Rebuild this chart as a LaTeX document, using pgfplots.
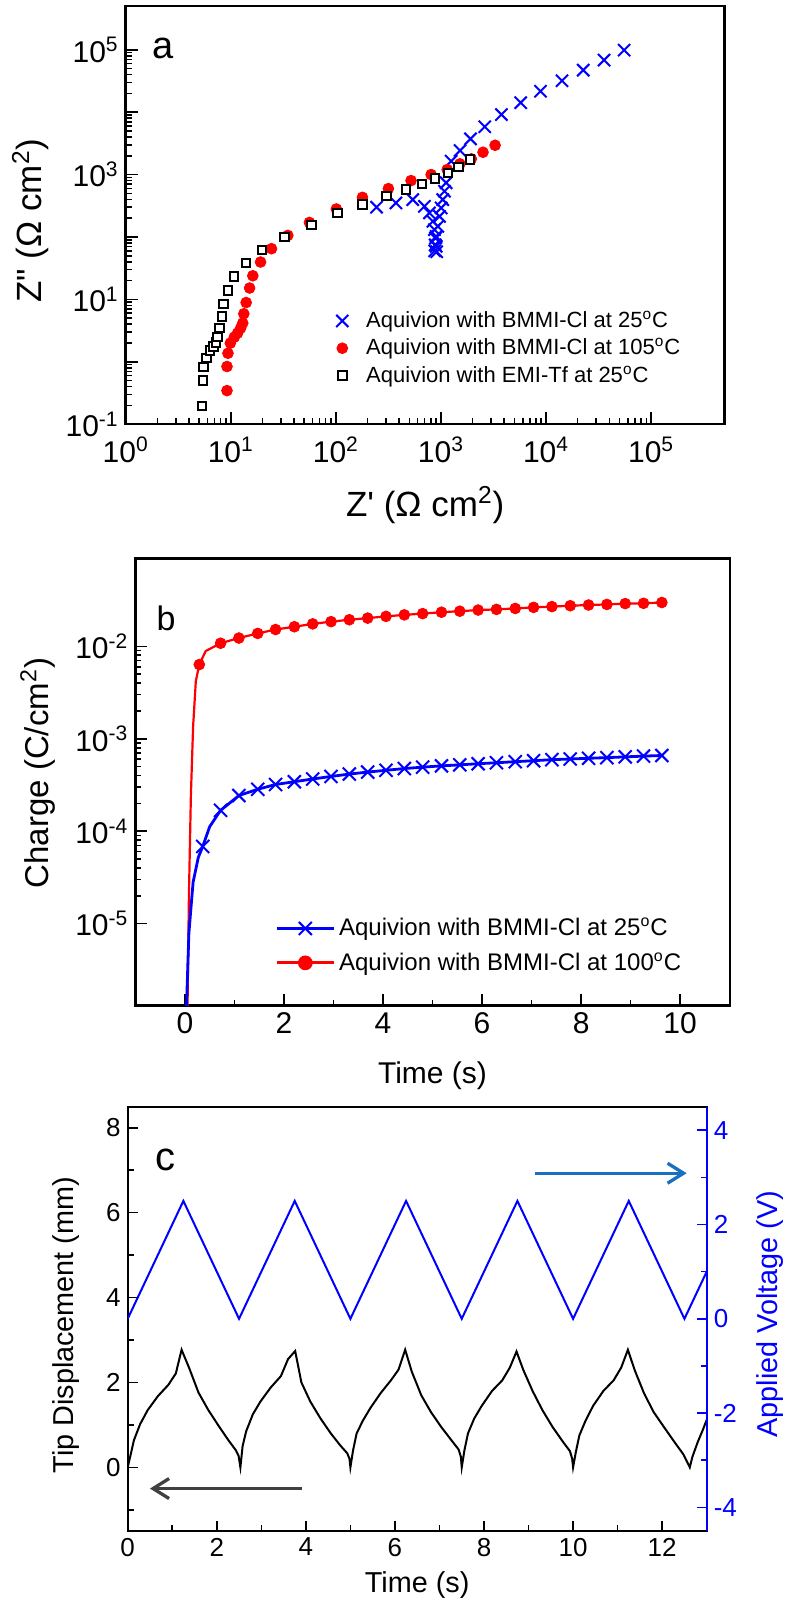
\documentclass[border=0pt]{standalone}
\usepackage{pgfplots}
\pgfplotsset{compat=1.18}
\usepackage{fontspec}
\setmainfont{Liberation Sans}
\setsansfont{Liberation Sans}
\usetikzlibrary{arrows.meta}
\pgfplotsset{/pgf/number format/assume math mode=true}
\begin{document}
\begin{tikzpicture}
\path[use as bounding box] (0,0) rectangle (396.5pt,805pt);
% ---------------- panel a ----------------
\begin{axis}[
 at={(62.85pt,592.9pt)}, anchor=south west, scale only axis,
 width=299.45pt, height=209pt,
 xmode=log, ymode=log, xmin=1, xmax=5e5, ymin=0.1, ymax=5e5,
 axis line style={line width=1.2pt},
 tick align=inside, xtick pos=bottom, ytick pos=left,
 major tick length=6pt, minor tick length=3pt,
 every tick/.style={black, line width=0.8pt},
 xtick={1,10,100,1000,10000,100000},
 xticklabels={10\textsuperscript{0},10\textsuperscript{1},10\textsuperscript{2},10\textsuperscript{3},10\textsuperscript{4},10\textsuperscript{5}},
 ytick={0.1,1,10,100,1000,10000,100000},
 yticklabels={10\textsuperscript{-1},,10\textsuperscript{1},,10\textsuperscript{3},,10\textsuperscript{5}},
 ticklabel style={font=\fontsize{15pt}{17pt}\selectfont},
 xticklabel style={yshift=-3pt},
 label style={font=\fontsize{17.5pt}{20pt}\selectfont},
 xlabel={Z\textquotesingle\ (Ω cm\textsuperscript{2})},
 ylabel={Z\textquotedbl\ (Ω cm\textsuperscript{2})},
 xlabel style={at={(rel axis cs:0.5,-0.193)}, anchor=center},
 ylabel style={at={(rel axis cs:-0.159,0.487)}, anchor=center},
 legend style={draw=none, fill=none, at={(0.332,0.29)}, anchor=north west,
   font=\fontsize{11pt}{13pt}\selectfont, row sep=0pt},
 legend cell align=left,
 legend image code/.code={\path[draw=none,fill=none] (-0.2cm,0cm) -- (0.35cm,0cm); \draw[#1] plot[only marks] coordinates {(0cm,0cm)};},
]
\addplot[only marks, mark=x, mark size=4.3pt, color=blue, mark options={line width=1pt}] coordinates {
(5.53e4,9.89e4) (3.56e4,6.84e4) (2.26e4,4.72e4) (1.42e4,3.19e4) (8.85e3,2.17e4)
(5.74e3,1.42e4) (3.76e3,9.18e3) (2.61e3,5.83e3) (1.91e3,3.74e3) (1.52e3,2.43e3)
(1.25e3,1.64e3) (1.12e3,7.4e2) (1.08e3,5.4e2) (1.04e3,3.97e2) (1.005e3,2.92e2)
(9.68e2,2.14e2) (9.33e2,1.48e2) (9.0e2,1.02e2) (8.81e2,7.5e1) (8.7e2,6.0e1)
(2.44e2,3.0e2) (3.73e2,3.52e2) (5.39e2,3.97e2) (6.96e2,3.10e2) (7.77e2,2.43e2)
(8.37e2,1.78e2) (8.67e2,1.31e2) (8.87e2,9.6e1) (9.0e2,7.1e1) (9.1e2,5.8e1)
};
\addlegendentry{Aquivion with BMMI-Cl at 25\textsuperscript{o}C}
\addplot[only marks, mark=*, mark size=2.7pt, color=red] coordinates {
(9.2,0.345) (9.2,0.84) (9.4,1.37) (9.9,1.99) (10.8,2.48) (11.6,2.88) (12.4,3.46)
(13.0,4.17) (13.3,5.88) (14.0,8.9) (15.1,15.2) (16.2,23.9) (19.2,39.7) (24.4,64.9)
(34.9,106) (56,171) (101,281) (179,432) (316,596) (519,801) (806,1000) (1146,1202)
(1514,1486) (1945,1787) (2512,2280) (3273,2951)
};
\addlegendentry{Aquivion with BMMI-Cl at 105\textsuperscript{o}C}
\addplot[only marks, mark=square*, mark size=2.1pt, color=black, mark options={fill=white, line width=1pt}] coordinates {
(5.32,0.196) (5.43,0.50) (5.51,0.82) (5.85,1.14) (6.38,1.51) (6.87,1.75) (7.24,2.03)
(7.5,2.48) (7.83,3.46) (8.26,5.32) (8.55,8.5) (9.42,13.9) (10.7,23.3) (14.0,38.3)
(19.9,62.5) (32.5,100) (58.5,157) (103.5,243) (179,330) (304,449) (465,574)
(657,709) (881,863) (1164,1065) (1469,1330) (1888,1743)
};
\addlegendentry{Aquivion with EMI-Tf at 25\textsuperscript{o}C}
\node at (rel axis cs:0.063,0.9) {\fontsize{19pt}{22pt}\selectfont a};
\end{axis}
% ---------------- panel b ----------------
\begin{axis}[
 at={(67.7pt,302.25pt)}, anchor=south west, scale only axis,
 width=297.15pt, height=223.45pt,
 ymode=log, xmin=-1, xmax=11, ymin=1.3e-6, ymax=0.089,
 axis line style={line width=1.2pt},
 tick align=inside, xtick pos=bottom, ytick pos=left,
 major tick length=6pt, minor tick length=3pt,
 every tick/.style={black, line width=0.8pt},
 xtick={0,2,4,6,8,10}, minor xtick={1,3,5,7,9},
 ytick={1e-5,1e-4,1e-3,1e-2},
 yticklabels={10\textsuperscript{-5},10\textsuperscript{-4},10\textsuperscript{-3},10\textsuperscript{-2}},
 ticklabel style={font=\fontsize{15pt}{17pt}\selectfont},
 xlabel style={font=\fontsize{15pt}{18pt}\selectfont, at={(rel axis cs:0.5,-0.158)}, anchor=center},
 ylabel style={font=\fontsize{16.5pt}{19pt}\selectfont, at={(rel axis cs:-0.164,0.52)}, anchor=center},
 xlabel={Time (s)},
 ylabel={Charge (C/cm\textsuperscript{2})},
 legend style={draw=none, fill=none, at={(0.225,0.214)}, anchor=north west,
   font=\fontsize{12pt}{14.5pt}\selectfont, row sep=3pt},
 legend cell align=left,
 legend image code/.code={\draw[mark repeat=2,mark phase=2,#1] plot coordinates {(0cm,0cm) (0.5cm,0cm) (1cm,0cm)};},
]
\addplot[red, line width=1.1pt, forget plot] coordinates {
(0.05,1.0e-6) (0.08,1.9e-5) (0.12,2.4e-4) (0.165,1.35e-3) (0.22,4.2e-3) (0.29,6.35e-3) (0.42,8.9e-3)
(0.72,1.08e-2) (1.09,1.23e-2) (1.47,1.38e-2) (1.83,1.52e-2) (2.21,1.63e-2) (2.58,1.75e-2)
(2.95,1.85e-2) (3.32,1.94e-2) (3.69,2.02e-2) (4.06,2.11e-2) (4.43,2.19e-2) (4.80,2.26e-2)
(5.18,2.34e-2) (5.55,2.40e-2) (5.92,2.47e-2) (6.29,2.51e-2) (6.67,2.57e-2) (7.04,2.64e-2)
(7.41,2.69e-2) (7.78,2.75e-2) (8.15,2.80e-2) (8.52,2.84e-2) (8.89,2.90e-2) (9.26,2.92e-2)
(9.63,2.98e-2)
};
\addplot[blue, line width=1.4pt, forget plot] coordinates {
(0.03,1.2e-6) (0.08,7.9e-6) (0.165,2.8e-5) (0.27,5.2e-5) (0.36,6.84e-5) (0.5,1.12e-4)
(0.72,1.68e-4) (1.09,2.43e-4) (1.47,2.84e-4) (1.83,3.20e-4) (2.21,3.43e-4) (2.58,3.67e-4)
(2.95,3.91e-4) (3.32,4.15e-4) (3.69,4.36e-4) (4.06,4.56e-4) (4.43,4.76e-4) (4.80,4.93e-4)
(5.18,5.09e-4) (5.55,5.22e-4) (5.92,5.37e-4) (6.29,5.50e-4) (6.67,5.65e-4) (7.04,5.79e-4)
(7.41,5.94e-4) (7.78,6.04e-4) (8.15,6.15e-4) (8.52,6.25e-4) (8.89,6.37e-4) (9.26,6.49e-4)
(9.63,6.59e-4)
};
\addplot[only marks, mark=*, mark size=2.7pt, color=red, forget plot] coordinates {
(0.29,6.35e-3) (0.72,1.08e-2) (1.09,1.23e-2) (1.47,1.38e-2) (1.83,1.52e-2) (2.21,1.63e-2)
(2.58,1.75e-2) (2.95,1.85e-2) (3.32,1.94e-2) (3.69,2.02e-2) (4.06,2.11e-2) (4.43,2.19e-2)
(4.80,2.26e-2) (5.18,2.34e-2) (5.55,2.40e-2) (5.92,2.47e-2) (6.29,2.51e-2) (6.67,2.57e-2)
(7.04,2.64e-2) (7.41,2.69e-2) (7.78,2.75e-2) (8.15,2.80e-2) (8.52,2.84e-2) (8.89,2.90e-2)
(9.26,2.92e-2) (9.63,2.98e-2)
};
\addplot[only marks, mark=x, mark size=4.6pt, color=blue, mark options={line width=1pt}, forget plot] coordinates {
(0.36,6.84e-5) (0.72,1.68e-4) (1.09,2.43e-4) (1.47,2.84e-4) (1.83,3.20e-4) (2.21,3.43e-4)
(2.58,3.67e-4) (2.95,3.91e-4) (3.32,4.15e-4) (3.69,4.36e-4) (4.06,4.56e-4) (4.43,4.76e-4)
(4.80,4.93e-4) (5.18,5.09e-4) (5.55,5.22e-4) (5.92,5.37e-4) (6.29,5.50e-4) (6.67,5.65e-4)
(7.04,5.79e-4) (7.41,5.94e-4) (7.78,6.04e-4) (8.15,6.15e-4) (8.52,6.25e-4) (8.89,6.37e-4)
(9.26,6.49e-4) (9.63,6.59e-4)
};
\addlegendimage{blue, line width=1.35pt, mark=x, mark size=4.6pt, mark options={line width=1pt}}
\addlegendentry{Aquivion with BMMI-Cl at 25\textsuperscript{o}C}
\addlegendimage{red, line width=1.35pt, mark=*, mark size=3pt}
\addlegendentry{Aquivion with BMMI-Cl at 100\textsuperscript{o}C}
\node at (rel axis cs:0.0515,0.867) {\fontsize{17pt}{20pt}\selectfont b};
\end{axis}
% ---------------- panel c ----------------
\begin{axis}[
 at={(63.85pt,39.5pt)}, anchor=south west, scale only axis,
 width=289.5pt, height=212.2pt,
 xmin=0, xmax=13, ymin=-1.5, ymax=8.5,
 axis line style={line width=1pt},
 tick align=inside, xtick pos=bottom, ytick pos=left,
 major tick length=5pt, minor tick length=3pt,
 every tick/.style={black, line width=0.8pt},
 xtick={0,2,4,6,8,10,12}, minor xtick={1,3,5,7,9,11},
 ytick={0,2,4,6,8}, minor ytick={-1,1,3,5,7},
 ticklabel style={font=\fontsize{13pt}{15pt}\selectfont},
 label style={font=\fontsize{14.4pt}{17pt}\selectfont},
 xlabel={Time (s)}, ylabel={Tip Displacement (mm)},
 xlabel style={at={(rel axis cs:0.5,-0.127)}, anchor=center},
 ylabel style={at={(rel axis cs:-0.106,0.485)}, anchor=center},
]
\addplot[black, line width=1pt] coordinates {
(0,0) (0.06,0.27) (0.14,0.64) (0.28,1.02) (0.45,1.35) (0.68,1.68) (0.91,1.94) (1.08,2.21)
(1.21,2.77) (1.38,2.34) (1.59,1.76) (1.81,1.35) (2.04,0.98) (2.26,0.64) (2.43,0.40) (2.49,0.27)
(2.53,0) (2.58,0.5) (2.66,0.85) (2.81,1.25) (2.98,1.55) (3.21,1.88) (3.44,2.15) (3.6,2.55)
(3.76,2.74) (3.9,2.0) (4.1,1.55) (4.33,1.15) (4.56,0.8) (4.77,0.52) (4.93,0.33) (4.98,0.2)
(5.0,0) (5.06,0.4) (5.14,0.8) (5.28,1.1) (5.45,1.4) (5.68,1.75) (5.91,2.05) (6.08,2.3)
(6.23,2.77) (6.38,2.25) (6.59,1.7) (6.81,1.3) (7.04,0.95) (7.26,0.65) (7.43,0.42) (7.48,0.25)
(7.5,0) (7.56,0.4) (7.64,0.8) (7.78,1.15) (7.95,1.45) (8.18,1.8) (8.41,2.05) (8.58,2.35)
(8.73,2.73) (8.88,2.3) (9.09,1.8) (9.31,1.35) (9.54,0.95) (9.76,0.62) (9.93,0.38) (9.98,0.2)
(10.0,0) (10.06,0.35) (10.14,0.75) (10.28,1.1) (10.45,1.45) (10.68,1.8) (10.91,2.05) (11.08,2.35)
(11.23,2.77) (11.38,2.3) (11.59,1.75) (11.81,1.3) (12.04,0.95) (12.26,0.62) (12.48,0.3) (12.62,0)
(12.68,0.25) (12.8,0.6) (12.92,0.9) (13.0,1.12)
};
\draw[line width=1.65pt, color={rgb,255:red,64;green,64;blue,64}, -{Straight Barb[length=8pt,width=10pt]}] (axis cs:3.91,-0.50) -- (axis cs:0.5,-0.50);
\draw[line width=1.65pt, color={rgb,255:red,25;green,112;blue,190}, -{Straight Barb[length=8pt,width=10pt]}] (axis cs:9.15,6.93) -- (axis cs:12.55,6.93);
\node at (rel axis cs:0.066,0.874) {\fontsize{20pt}{23pt}\selectfont c};
\end{axis}
\begin{axis}[
 at={(63.85pt,39.5pt)}, anchor=south west, scale only axis,
 width=289.5pt, height=212.2pt,
 xmin=0, xmax=13, ymin=-4.5, ymax=4.5,
 axis x line=none, axis y line*=right,
 yticklabel pos=right,
 y axis line style={blue, line width=1pt, -},
 tick align=inside,
 major tick length=5pt, minor tick length=3pt,
 every tick/.style={blue, line width=0.8pt},
 ytick={-4,-2,0,2,4}, minor ytick={-3,-1,1,3},
 yticklabel style={blue, font=\fontsize{13pt}{15pt}\selectfont},
 ylabel style={blue, font=\fontsize{14.4pt}{17pt}\selectfont, at={(rel axis cs:1.109,0.511)}, anchor=center},
 ylabel={Applied Voltage (V)},
]
\addplot[blue, line width=1pt] coordinates {
(0,0) (1.25,2.5) (2.5,0) (3.75,2.5) (5,0) (6.25,2.5) (7.5,0) (8.75,2.5) (10,0) (11.25,2.5) (12.5,0) (13,1.0)
};
\end{axis}
\end{tikzpicture}
\end{document}
